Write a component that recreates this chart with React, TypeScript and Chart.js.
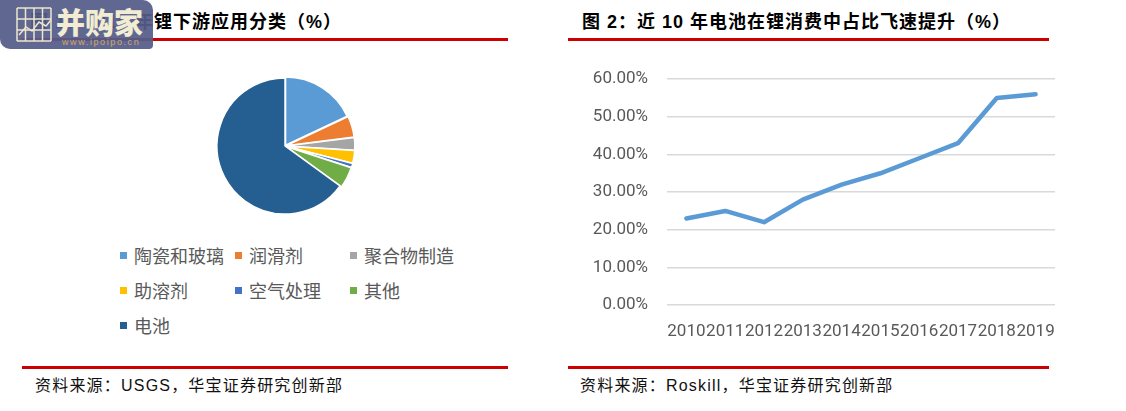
import React, { useEffect, useRef } from "react";
import { Chart, registerables } from "chart.js";

Chart.register(...registerables);

// ---- Pie data (figure 1) ----
const pieLabels = ["陶瓷和玻璃", "润滑剂", "聚合物制造", "助溶剂", "空气处理", "其他", "电池"];
const pieValues = [18, 5, 3, 3, 1, 5, 65];
const pieColors = ["#5B9BD5", "#ED7D31", "#A5A5A5", "#FFC000", "#4472C4", "#70AD47", "#255E91"];
const pieOffsets = [4, 4, 4, 4, 4, 4, 0];

// ---- Line data (figure 2) ----
const years = ["2010", "2011", "2012", "2013", "2014", "2015", "2016", "2017", "2018", "2019"];
const batteryShare = [23, 25, 22, 28, 32, 35, 39, 43, 55, 56];
const yTicks = [0, 10, 20, 30, 40, 50, 60];

const title1 = "图 1：2019 年锂下游应用分类（%）";
const title2 = "图 2：近 10 年电池在锂消费中占比飞速提升（%）";
const source1 = "资料来源：USGS，华宝证券研究创新部";
const source2 = "资料来源：Roskill，华宝证券研究创新部";

const CJK = '"Noto Sans CJK SC", "Liberation Sans", sans-serif';
const MIXED = '"Liberation Sans", "Noto Sans CJK SC", sans-serif';

function PieChart() {
  const ref = useRef<HTMLCanvasElement | null>(null);
  useEffect(() => {
    if (!ref.current) return;
    const chart = new Chart(ref.current, {
      type: "pie",
      data: {
        labels: pieLabels,
        datasets: [
          {
            data: pieValues,
            backgroundColor: pieColors,
            borderColor: "#ffffff",
            borderWidth: 1.5,
            offset: pieOffsets,
          },
        ],
      },
      options: {
        responsive: false,
        animation: false,
        radius: 68,
        layout: { padding: 0 },
        plugins: { legend: { display: false }, tooltip: { enabled: false } },
      },
    });
    return () => chart.destroy();
  }, []);
  return (
    <canvas
      ref={ref}
      width={170}
      height={170}
      style={{ position: "absolute", left: 200, top: 61, width: 170, height: 170 }}
    />
  );
}

function LineChart() {
  const ref = useRef<HTMLCanvasElement | null>(null);
  useEffect(() => {
    if (!ref.current) return;
    const chart = new Chart(ref.current, {
      type: "line",
      data: {
        labels: years,
        datasets: [
          {
            data: batteryShare,
            borderColor: "#5B9BD5",
            borderWidth: 4.5,
            borderCapStyle: "round",
            borderJoinStyle: "round",
            pointRadius: 0,
            tension: 0,
            fill: false,
          },
        ],
      },
      options: {
        responsive: false,
        animation: false,
        layout: { padding: { right: 10, top: 0, left: 0, bottom: 0 } },
        plugins: { legend: { display: false }, tooltip: { enabled: false } },
        scales: {
          x: {
            offset: true,
            grid: { display: false },
            border: { display: false },
            ticks: {
              autoSkip: false,
              maxRotation: 0,
              minRotation: 0,
              padding: 9,
              color: "#595959",
              font: { family: "Roboto", size: 17 },
            },
            afterFit: (s: any) => {
              s.height = 34;
            },
          },
          y: {
            min: 0,
            max: 60,
            afterBuildTicks: (s: any) => {
              s.ticks = yTicks.map((v) => ({ value: v }));
            },
            grid: { color: "#D9D9D9", lineWidth: 1.5, drawTicks: false },
            border: { display: false },
            ticks: {
              padding: 19,
              color: "#595959",
              font: { family: "Roboto", size: 17 },
              callback: (v: any) => Number(v).toFixed(2) + "%",
            },
            afterFit: (s: any) => {
              s.width = 77;
            },
          },
        },
      },
    });
    return () => chart.destroy();
  }, []);
  return (
    <canvas
      ref={ref}
      width={475}
      height={289}
      style={{ position: "absolute", left: 590, top: 50, width: 475, height: 289 }}
    />
  );
}

function Legend() {
  const cols = [123, 238, 353];
  const rows = [255, 290, 325];
  return (
    <>
      {pieLabels.map((lab, i) => {
        const x = cols[i % 3];
        const y = rows[Math.floor(i / 3)];
        return (
          <div key={lab}>
            <div
              style={{
                position: "absolute",
                left: x - 3,
                top: y - 3,
                width: 7,
                height: 7,
                background: pieColors[i],
              }}
            />
            <div
              style={{
                position: "absolute",
                left: x + 11,
                top: y - 13,
                height: 26,
                lineHeight: "26px",
                fontSize: 18,
                color: "#595959",
                fontFamily: CJK,
                whiteSpace: "nowrap",
              }}
            >
              {lab}
            </div>
          </div>
        );
      })}
    </>
  );
}

function Watermark() {
  const gridLines = [];
  for (let i = 0; i <= 4; i++) {
    gridLines.push(<line key={"v" + i} x1={1 + i * 8.5} y1={1} x2={1 + i * 8.5} y2={34} stroke="#ECE6CF" strokeWidth={1.5} />);
  }
  for (let j = 0; j <= 3; j++) {
    gridLines.push(<line key={"h" + j} x1={1} y1={1 + j * 11} x2={35} y2={1 + j * 11} stroke="#ECE6CF" strokeWidth={1.5} />);
  }
  return (
    <div
      style={{
        position: "absolute",
        left: 0,
        top: 0,
        width: 153,
        height: 49,
        background: "rgba(84,92,138,0.93)",
        borderTopRightRadius: 10,
        borderBottomLeftRadius: 10,
        borderBottomRightRadius: 4,
      }}
    >
      <svg width={37} height={37} style={{ position: "absolute", left: 16, top: 7 }}>
        {gridLines}
        <polyline points="3,28 10,20 16,24 23,15 30,19 35,13" fill="none" stroke="#ECE6CF" strokeWidth={1.5} />
      </svg>
      <div
        style={{
          position: "absolute",
          left: 56,
          top: 3,
          fontSize: 29,
          lineHeight: "36px",
          fontWeight: 900,
          color: "#F2ECD2",
          fontFamily: CJK,
          letterSpacing: 0,
          whiteSpace: "nowrap",
        }}
      >
        并购家
      </div>
      <div
        style={{
          position: "absolute",
          left: 62,
          top: 37,
          fontSize: 9,
          lineHeight: "10px",
          color: "#D0A868",
          fontFamily: '"Liberation Sans", sans-serif',
          letterSpacing: 1.6,
          whiteSpace: "nowrap",
        }}
      >
        www.ipoipo.cn
      </div>
    </div>
  );
}

export default function App() {
  const redLine = (left: number, top: number, width: number) => (
    <div style={{ position: "absolute", left, top, width, height: 3, background: "#CC0000" }} />
  );
  const titleStyle = (left: number): React.CSSProperties => ({
    position: "absolute",
    left,
    top: 9,
    fontSize: 18,
    lineHeight: "26px",
    fontWeight: 700,
    color: "#000",
    fontFamily: MIXED,
    letterSpacing: 1,
    whiteSpace: "nowrap",
  });
  const srcStyle = (left: number): React.CSSProperties => ({
    position: "absolute",
    left,
    top: 373,
    fontSize: 16,
    lineHeight: "26px",
    color: "#111",
    fontFamily: MIXED,
    letterSpacing: 1.2,
    whiteSpace: "nowrap",
  });
  return (
    <div
      style={{
        position: "absolute",
        left: 0,
        top: 0,
        width: 1126,
        height: 411,
        background: "#fff",
        overflow: "hidden",
      }}
    >
      <div style={titleStyle(30)}>{title1}</div>
      <div style={titleStyle(582)}>{title2}</div>
      {redLine(22, 38, 486)}
      {redLine(568, 38, 481)}
      <PieChart />
      <Legend />
      <LineChart />
      {redLine(22, 366, 486)}
      {redLine(568, 366, 481)}
      <div style={srcStyle(35)}>{source1}</div>
      <div style={srcStyle(580)}>{source2}</div>
      <Watermark />
    </div>
  );
}
